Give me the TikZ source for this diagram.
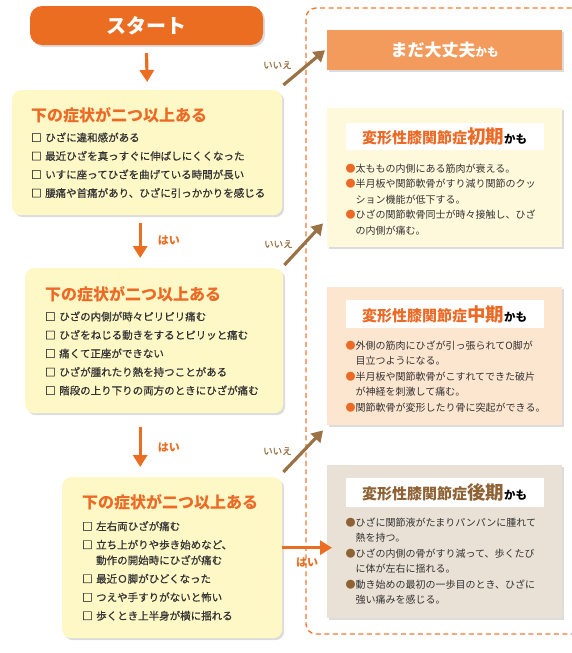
\documentclass[tikz,border=0pt]{standalone}
\usepackage{fontspec}
\setmainfont{Noto Sans CJK JP}
\newfontfamily\itemfont{Noto Sans CJK JP}[FakeBold=0.6]
\usetikzlibrary{positioning,arrows.meta,shadows}

\definecolor{startorange}{HTML}{EA6D22}
\definecolor{titleorange}{HTML}{EC6A26}
\definecolor{frameorange}{HTML}{EE7B36}
\definecolor{qyellow}{HTML}{FEF7C6}
\definecolor{okorange}{HTML}{F29B5D}
\definecolor{earlyyellow}{HTML}{FEF9DB}
\definecolor{midpeach}{HTML}{FDE6D0}
\definecolor{lategray}{HTML}{E9E1D5}
\definecolor{nobrown}{HTML}{9A7246}
\definecolor{latebrown}{HTML}{8E6235}
\definecolor{textgray}{HTML}{333333}

\begin{document}
\begin{tikzpicture}[x=1pt,y=-1pt,
    shade box/.style={drop shadow={opacity=0.28,shadow xshift=2pt,shadow yshift=-2pt}},
    startbox/.style={shade box, fill=startorange, rounded corners=12pt, minimum width=233pt, minimum height=39pt, text=white, font=\fontsize{20}{24}\selectfont\bfseries},
    qbox/.style={shade box, fill=qyellow, rounded corners=9pt, anchor=north west, align=left, inner xsep=19pt, text=textgray, font=\itemfont\fontsize{10.5}{18.5}\selectfont},
    rbox/.style={shade box, anchor=north west, minimum width=235pt},
    namebox/.style={fill=white, minimum width=198pt, anchor=north, inner sep=0pt},
    bullets/.style={anchor=north west, align=left, inner sep=0pt, text=textgray, font=\fontsize{10}{15.5}\selectfont},
    hai/.style={text=startorange, font=\fontsize{11}{13}\selectfont\bfseries, inner sep=1pt},
    iie/.style={text=nobrown, font=\itemfont\fontsize{9.5}{11}\selectfont, inner sep=1pt},
    goarrow/.style={draw=startorange, line width=3.2pt, -{Triangle[width=14pt,length=12pt]}},
    noarrow/.style={draw=nobrown, line width=3.2pt, -{Triangle[width=13pt,length=11pt]}}
]
    \useasboundingbox (0,0) rectangle (572,653);
    \def\qtitle#1{{\rmfamily\fontsize{16}{20}\selectfont\bfseries\color{titleorange}#1}}
    \def\stagename#1#2{{\color{#1}\fontsize{15}{18}\selectfont\bfseries 変形性膝関節症{\fontsize{18.5}{20}\selectfont #2}}{\fontsize{11.5}{14}\selectfont\bfseries かも}}
    \def\bul#1{\textcolor{#1}{●}}

    % Dashed frame round the results
    \draw[frameorange, line width=1.4pt, dash pattern=on 5pt off 3.5pt, rounded corners=10pt] (580,8) -- (306,8) -- (306,634) -- (580,634);

    % Start
    \node[startbox] (start) at (146.5,25.5) {スタート};

    % Questions
    \node[qbox, text width=232pt, minimum height=125pt] (q1) at (12,90) {\qtitle{下の症状が二つ以上ある}\\[1.5pt]
        □~ひざに違和感がある\\
        □~最近ひざを真っすぐに伸ばしにくくなった\\
        □~いすに座ってひざを曲げている時間が長い\\
        □~腰痛や首痛があり、ひざに引っかかりを感じる};
    \node[qbox, text width=218pt, inner xsep=20pt, minimum height=145pt] (q2) at (25,268) {\qtitle{下の症状が二つ以上ある}\\[2pt]
        □~ひざの内側が時々ピリピリ痛む\\
        □~ひざをねじる動きをするとピリッと痛む\\
        □~痛くて正座ができない\\
        □~ひざが腫れたり熱を持つことがある\\
        □~階段の上り下りの両方のときにひざが痛む};
    \node[qbox, text width=180pt, inner xsep=20pt, minimum height=161pt] (q3) at (62,477) {\qtitle{下の症状が二つ以上ある}\\[3pt]
        □~左右両ひざが痛む\\
        □~立ち上がりや歩き始めなど、\\[-3pt]
        \phantom{□~}動作の開始時にひざが痛む\\
        □~最近Ｏ脚がひどくなった\\
        □~つえや手すりがないと怖い\\
        □~歩くとき上半身が横に揺れる};

    % Results
    \node[rbox, fill=okorange, minimum height=40pt, text=white, font=\fontsize{17}{20}\selectfont\bfseries] (ok) at (327,30) {まだ大丈夫{\fontsize{11.5}{14}\selectfont かも}};

    \node[rbox, fill=earlyyellow, minimum height=139pt] (early) at (327,108) {};
    \node[namebox, minimum height=27pt] (earlyname) at ([yshift=-15pt]early.north) {\stagename{titleorange}{初期}};
    \node[bullets] (earlytext) at ([yshift=-13pt]earlyname.south west) {\bul{titleorange}太ももの内側にある筋肉が衰える。\\
        \bul{titleorange}半月板や関節軟骨がすり減り関節のクッ\\
        \phantom{●}ション機能が低下する。\\
        \bul{titleorange}ひざの関節軟骨同士が時々接触し、ひざ\\
        \phantom{●}の内側が痛む。};

    \node[rbox, fill=midpeach, minimum height=138pt] (mid) at (327,287) {};
    \node[namebox, minimum height=28pt] (midname) at ([yshift=-13pt]mid.north) {\stagename{titleorange}{中期}};
    \node[bullets] (midtext) at ([yshift=-12pt]midname.south west) {\bul{titleorange}外側の筋肉にひざが引っ張られてO脚が\\
        \phantom{●}目立つようになる。\\
        \bul{titleorange}半月板や関節軟骨がこすれてできた破片\\
        \phantom{●}が神経を刺激して痛む。\\
        \bul{titleorange}関節軟骨が変形したり骨に突起ができる。};

    \node[rbox, fill=lategray, minimum height=153pt] (late) at (327,465) {};
    \node[namebox, minimum height=29pt] (latename) at ([yshift=-13pt]late.north) {\stagename{latebrown}{後期}};
    \node[bullets] (latetext) at ([yshift=-10pt]latename.south west) {\bul{latebrown}ひざに関節液がたまりパンパンに腫れて\\
        \phantom{●}熱を持つ。\\
        \bul{latebrown}ひざの内側の骨がすり減って、歩くたび\\
        \phantom{●}に体が左右に揺れる。\\
        \bul{latebrown}動き始めの最初の一歩目のとき、ひざに\\
        \phantom{●}強い痛みを感じる。};

    % Yes arrows
    \draw[goarrow] ([yshift=-8pt]start.south) -- ([yshift=8pt]q1.north);
    \draw[goarrow] ([shift={(-7,8)}]q1.south) -- node[hai, midway, right=15pt] (hai1) {はい} ([shift={(-14,-10)}]q2.north);
    \draw[goarrow] ([shift={(-14,14)}]q2.south) -- node[hai, midway, right=15pt] (hai2) {はい} ([shift={(-32,-10)}]q3.north);
    \coordinate (haitip) at ([shift={(5,6)}]late.west);
    \draw[goarrow] (q3.east |- haitip) -- node[hai, midway, below=7pt] (hai3) {はい} (haitip);

    % No arrows
    \draw[noarrow] ([shift={(1,-5)}]q1.north east) -- node[iie, pos=0, shift={(-6,-20)}] (iie1) {いいえ} ([xshift=-2pt]ok.west);
    \draw[noarrow] ([shift={(1,-3)}]q2.north east) -- node[iie, pos=0, shift={(-6,-21)}] (iie2) {いいえ} ([shift={(-4,-24)}]early.south west);
    \draw[noarrow] ([shift={(1,-5)}]q3.north east) -- node[iie, pos=0, shift={(-6,-21)}] (iie3) {いいえ} ([shift={(-4,5)}]mid.south west);
\end{tikzpicture}
\end{document}
